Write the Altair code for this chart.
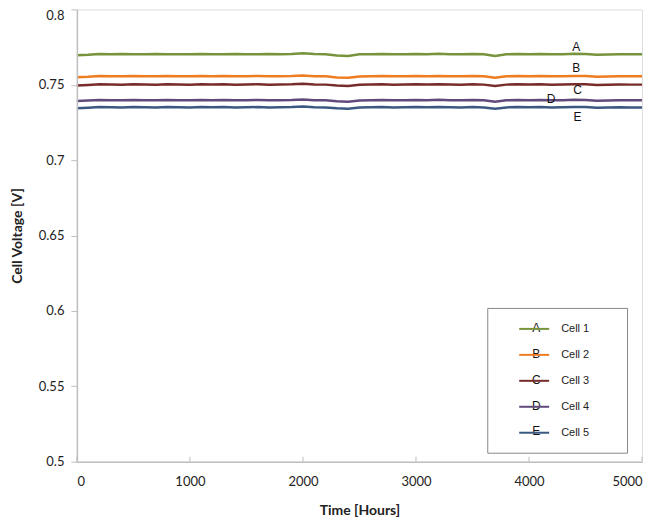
import altair as alt
import pandas as pd

hours = list(range(0, 5001, 100))

cell1 = [.7696, .7699, .7704, .7703, .7704, .7702, .7703, .7704, .7702, .7703, .7702, .7704, .7703, .7702, .7704,
         .7703, .7702, .7704, .7703, .7704, .7709, .7704, .7703, .7694, .7691, .7702, .7703, .7704, .7702, .7703,
         .7704, .7703, .7705, .7703, .7702, .7704, .7703, .7691, .7702, .7704, .7703, .7704, .7702, .7703, .7705,
         .7704, .7699, .7701, .7703, .7702, .7702]
cell2 = [.7550, .7553, .7558, .7557, .7556, .7558, .7557, .7556, .7558, .7557, .7556, .7558, .7557, .7558, .7556,
         .7557, .7558, .7556, .7557, .7558, .7562, .7557, .7556, .7549, .7546, .7555, .7557, .7558, .7556, .7557,
         .7558, .7557, .7559, .7557, .7556, .7558, .7556, .7546, .7556, .7558, .7557, .7558, .7556, .7557, .7559,
         .7558, .7553, .7555, .7557, .7556, .7556]
cell3 = [.7496, .7499, .7503, .7502, .7501, .7503, .7502, .7501, .7503, .7502, .7501, .7503, .7502, .7503, .7501,
         .7502, .7503, .7501, .7502, .7503, .7507, .7502, .7501, .7495, .7492, .7500, .7502, .7503, .7501, .7502,
         .7503, .7502, .7504, .7502, .7501, .7503, .7501, .7492, .7501, .7503, .7502, .7503, .7501, .7502, .7504,
         .7503, .7498, .7500, .7502, .7501, .7501]
cell4 = [.7392, .7395, .7399, .7398, .7397, .7399, .7398, .7397, .7399, .7398, .7397, .7399, .7398, .7399, .7397,
         .7398, .7399, .7397, .7398, .7399, .7403, .7398, .7397, .7391, .7388, .7396, .7398, .7399, .7397, .7398,
         .7399, .7398, .7400, .7398, .7397, .7399, .7397, .7388, .7397, .7399, .7398, .7399, .7397, .7398, .7400,
         .7399, .7394, .7396, .7398, .7397, .7397]
cell5 = [.7345, .7348, .7352, .7351, .7350, .7352, .7351, .7350, .7352, .7351, .7350, .7352, .7351, .7352, .7350,
         .7351, .7352, .7350, .7351, .7352, .7356, .7351, .7350, .7344, .7341, .7349, .7351, .7352, .7350, .7351,
         .7352, .7351, .7353, .7351, .7350, .7352, .7350, .7341, .7350, .7352, .7351, .7352, .7350, .7351, .7353,
         .7352, .7347, .7349, .7351, .7350, .7350]

cells = ["Cell 1", "Cell 2", "Cell 3", "Cell 4", "Cell 5"]
colors = ["#77933C", "#EE7D22", "#772C2A", "#604A7B", "#3A5882"]
letters = ["A", "B", "C", "D", "E"]

# curve label positions (data coordinates)
label_hours = [4417, 4417, 4430, 4196, 4430]
label_volts = [0.7750, 0.7611, 0.7464, 0.7404, 0.7287]

# letters drawn over the legend symbols (data coordinates)
legend_letter_hours = [4064, 4064, 4064, 4064, 4064]
legend_letter_volts = [0.5887, 0.5715, 0.5543, 0.5371, 0.5205]

x_ticks = [0, 1000, 2000, 3000, 4000, 5000]
y_ticks = [0.5, 0.55, 0.6, 0.65, 0.7, 0.75, 0.8]

rows = []
for name, series in zip(cells, [cell1, cell2, cell3, cell4, cell5]):
    for h, v in zip(hours, series):
        rows.append({"hours": h, "volts": v, "cell": name})
df = pd.DataFrame(rows)

lab_df = pd.DataFrame({"hours": label_hours, "volts": label_volts, "letter": letters})
leg_df = pd.DataFrame({"hours": legend_letter_hours, "volts": legend_letter_volts, "letter": letters})
tick_df = pd.DataFrame({"hours": x_ticks, "lo": [0.5] * 6, "hi": [0.5033] * 6})

xscale = alt.Scale(domain=[0, 5000], nice=False, zero=False)
yscale = alt.Scale(domain=[0.5, 0.8], nice=False, zero=False)

axis_font = "Lato"
pad = "\u2800\u2800\u2800\u2800"

lines = alt.Chart(df).mark_line(strokeWidth=2.5).encode(
    x=alt.X("hours:Q", scale=xscale,
            axis=alt.Axis(title="Time [Hours]", values=x_ticks, format="d", ticks=False, labelPadding=14,
                          labelFont=axis_font, labelFontSize=13, labelColor="#222",
                          titleFont=axis_font, titleFontSize=14, titleFontWeight="bold",
                          titleColor="#222", titlePadding=15, domainColor="#BFBFBF",
                          domainWidth=1.5, grid=False, zindex=1)),
    y=alt.Y("volts:Q", scale=yscale,
            axis=alt.Axis(title="Cell Voltage [V]", values=y_ticks, format="~g", tickSize=6,
                          tickColor="#BFBFBF", labelPadding=7,
                          labelOffset=alt.condition("datum.value >= 0.79", alt.value(6), alt.value(0)),
                          labelFont=axis_font, labelFontSize=13, labelColor="#222",
                          titleFont=axis_font, titleFontSize=14, titleFontWeight="bold",
                          titleColor="#222", titlePadding=14, domainColor="#BFBFBF",
                          domainWidth=1.5, grid=False, zindex=1)),
    color=alt.Color("cell:N", scale=alt.Scale(domain=cells, range=colors),
                    legend=alt.Legend(title="\u2800", titleOrient="bottom", titleFontSize=6,
                                      titlePadding=4,
                                      orient="none", legendX=411, legendY=299,
                                      symbolType="stroke", symbolSize=900, symbolStrokeWidth=2,
                                      symbolOffset=26, labelOffset=11, padding=5, rowPadding=5,
                                      labelFont="Liberation Sans", labelFontSize=11,
                                      labelColor="#222", strokeColor="#888888",
                                      labelExpr="datum.label + '" + pad + "'")),
)

xticks = alt.Chart(tick_df).mark_rule(color="#BFBFBF", strokeWidth=1).encode(
    x=alt.X("hours:Q", scale=xscale), y=alt.Y("lo:Q", scale=yscale), y2="hi:Q"
)

curve_labels = alt.Chart(lab_df).mark_text(font="Liberation Sans", fontSize=12, color="#111").encode(
    x=alt.X("hours:Q", scale=xscale), y=alt.Y("volts:Q", scale=yscale), text="letter:N"
)

legend_letters = alt.Chart(leg_df).mark_text(font="Liberation Sans", fontSize=12, color="#111").encode(
    x=alt.X("hours:Q", scale=xscale), y=alt.Y("volts:Q", scale=yscale), text="letter:N"
)

chart = alt.layer(lines, xticks, curve_labels, legend_letters).properties(
    width=566, height=453,
    autosize=alt.AutoSizeParams(type="none"),
    padding={"left": 69, "top": 1, "right": 8, "bottom": 56},
).configure_view(stroke="#404040", strokeWidth=1.5).configure(background="white")

chart.save("out.html", embed_options={"renderer": "svg", "actions": False})
